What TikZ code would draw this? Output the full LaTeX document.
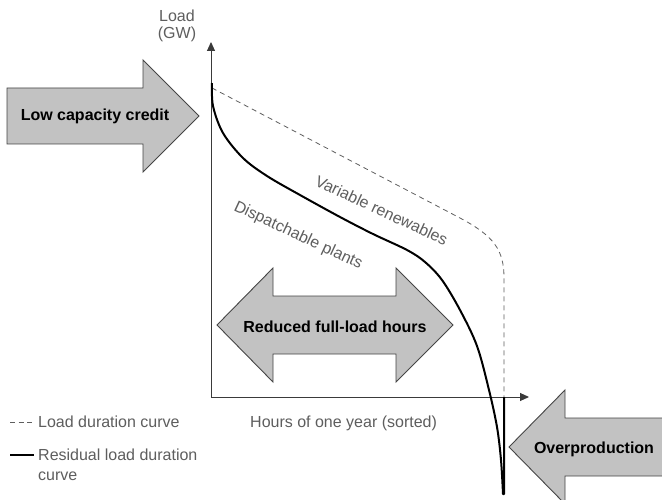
\documentclass[tikz,border=0pt]{standalone}
\usepackage{fontspec}
\setmainfont{Liberation Sans}
\usetikzlibrary{arrows.meta}
\definecolor{txtgray}{HTML}{5E5E5E}
\definecolor{arrfill}{HTML}{C2C2C2}
\definecolor{arredge}{HTML}{454545}
\definecolor{axgray}{HTML}{3A3A3A}
\begin{document}
\begin{tikzpicture}[x=1pt,y=-1pt,
  bigarrow/.style={fill=arrfill, draw=arredge, line width=0.9pt, line join=miter},
  lbl/.style={font=\fontsize{16}{19}\selectfont\bfseries, text=black, inner sep=0pt, anchor=base},
  gtext/.style={font=\fontsize{16}{19}\selectfont, text=txtgray, inner sep=0pt},
  axisline/.style={draw=axgray, line width=1pt, -{Triangle[length=9pt,width=8pt]}},
  loadcurve/.style={draw=txtgray, line width=0.8pt, dash pattern=on 5pt off 4pt},
  rescurve/.style={draw=black, line width=2pt, line join=round}]
\clip (0,0) rectangle (662,500);
\fill[white] (0,0) rectangle (662,500);

% big arrows
\draw[bigarrow] (7,88) -- (143,88) -- (143,60) -- (199,116) -- (143,172) -- (143,144) -- (7,144) -- cycle;
\draw[bigarrow] (217,325) -- (273,268) -- (273,296) -- (396,296) -- (396,268) -- (453,325)
  -- (396,382) -- (396,354) -- (273,354) -- (273,382) -- cycle;
\draw[bigarrow] (509,447) -- (565,390) -- (565,418) -- (680,418) -- (680,476) -- (565,476) -- (565,504) -- cycle;

\node[lbl] (lcc) at (95,121) {Low capacity credit};
\node[lbl] (rfl) at (335,332) {Reduced full-load hours};
\node[lbl] (ovp) at (594,453) {Overproduction};

% axes
\coordinate (o) at (211,397);
\coordinate (ytip) at (211,42);
\coordinate (xtip) at (529,397);
\draw[axisline] (o) -- (ytip);
\draw[axisline] (o) -- (xtip);

% curves
\draw[loadcurve] (212,88) -- (460,218) .. controls (494,236) and (504,250) .. (504,278) -- (504,397);
\draw[rescurve] plot[smooth, tension=0.55] coordinates {(212,83) (213,106) (223,133) (243,158) (267,176) (300,195) (340,217) (373,234) (407,250) (425,262) (442,280) (460,310) (477,346) (489,390) (497,427) (501,460) (503,494)}
  -- (504,494) -- (504,397);

% labels
\node[gtext, anchor=base] (load) at (177,22) {Load};
\node[gtext, anchor=base] (gw) at (177,39) {(GW)};
\node[gtext, anchor=base west, rotate=-25] (vr) at (314,185) {Variable renewables};
\node[gtext, anchor=base west, rotate=-25] (dp) at (233,210) {Dispatchable plants};
\node[gtext, anchor=base west] (hrs) at (250,427) {Hours of one year (sorted)};

% legend
\coordinate (l1a) at (10,422);
\coordinate (l1b) at (34,422);
\draw[draw=txtgray, line width=1pt, dash pattern=on 5pt off 3.5pt] (l1a) -- (l1b);
\node[gtext, anchor=base west] (ldc) at (38,427) {Load duration curve};
\coordinate (l2a) at (10,455);
\coordinate (l2b) at (34,455);
\draw[black, line width=2pt] (l2a) -- (l2b);
\node[gtext, anchor=base west] (rld1) at (38,460) {Residual load duration};
\node[gtext, anchor=base west] (rld2) at (38,480) {curve};
\end{tikzpicture}
\end{document}
